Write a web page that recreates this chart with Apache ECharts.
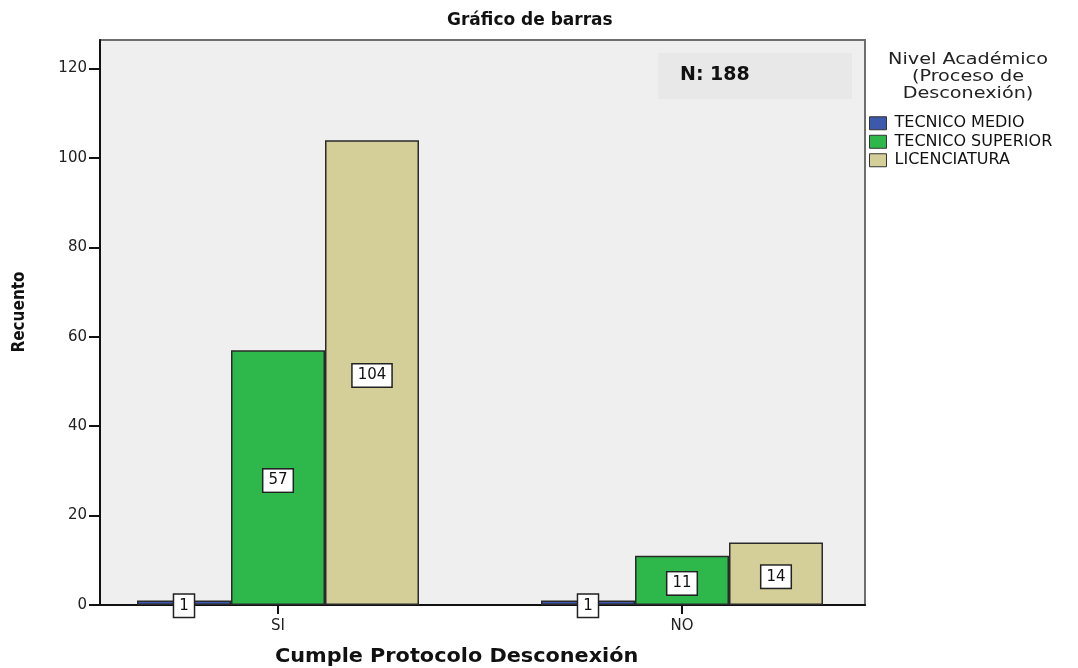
<!DOCTYPE html>
<html>
<head>
<meta charset="utf-8">
<script src="https://cdn.jsdelivr.net/npm/echarts@6/dist/echarts.min.js"></script>
<style>
  html, body { margin: 0; padding: 0; background: #fff; }
  #chart { width: 1078px; height: 668px; }
</style>
</head>
<body>
<div id="chart"></div>
<script>
// datos
var categories = ["SI", "NO"];
var seriesNames = ["TECNICO MEDIO", "TECNICO SUPERIOR", "LICENCIATURA"];
var tecnicoMedio = [1, 1];
var tecnicoSuperior = [57, 11];
var licenciatura = [104, 14];
var yTicks = [0, 20, 40, 60, 80, 100, 120];
var yMax = 126.4;

var colors = ["#3d59ab", "#2eb84b", "#d4cf98"];
var font = "DejaVu Sans";

var chart = echarts.init(document.getElementById("chart"));

function barSeries(name, data, color) {
  return {
    name: name,
    type: "bar",
    xAxisIndex: 1,
    yAxisIndex: 1,
    barWidth: 94,
    barGap: "0%",
    data: data,
    itemStyle: { color: color, borderColor: "#2a2a2a", borderWidth: 1.5 },
    label: {
      show: true,
      position: "inside",
      offset: [0, 3],
      color: "#111",
      fontFamily: font,
      fontSize: 15,
      backgroundColor: "#fff",
      borderColor: "#222",
      borderWidth: 1.5,
      padding: [4, 5, 3, 5]
    },
    emphasis: { disabled: true }
  };
}

var option = {
  animation: false,
  color: colors,
  title: {
    text: "Gráfico de barras",
    left: 442,
    top: 7,
    textStyle: { fontFamily: font, fontWeight: "bold", fontSize: 17, color: "#111" }
  },
  legend: {
    data: seriesNames,
    orient: "vertical",
    left: 869,
    top: 114,
    icon: "rect",
    itemWidth: 17,
    itemHeight: 13,
    itemGap: 0,
    padding: 0,
    itemStyle: { borderColor: "#333", borderWidth: 1 },
    textStyle: { fontFamily: font, fontSize: 16, lineHeight: 18.5, color: "#111", padding: [0, 0, 0, 3] }
  },
  graphic: [
    {
      type: "text",
      x: 968,
      y: 51,
      scaleX: 1.2,
      style: {
        text: "Nivel Académico\n(Proceso de\nDesconexión)",
        fontFamily: font,
        fontSize: 16,
        lineHeight: 17,
        align: "center",
        fill: "#222"
      }
    },
    {
      type: "rect",
      left: 658,
      top: 53,
      shape: { width: 194, height: 46 },
      style: { fill: "#e8e8e8" },
      z: 1
    },
    {
      type: "text",
      left: 680,
      top: 66,
      style: {
        text: "N: 188",
        fontFamily: font,
        fontWeight: "bold",
        fontSize: 19,
        fill: "#111"
      },
      z: 2
    },
    {
      type: "text",
      x: 275,
      y: 647,
      scaleX: 1.04,
      style: {
        text: "Cumple Protocolo Desconexión",
        fontFamily: font,
        fontWeight: "bold",
        fontSize: 20,
        fill: "#111"
      }
    },
    {
      type: "text",
      x: 20,
      y: 312,
      rotation: Math.PI / 2,
      style: {
        text: "Recuento",
        fontFamily: "DejaVu Sans Condensed",
        fontWeight: "bold",
        fontSize: 17,
        align: "center",
        verticalAlign: "middle",
        fill: "#111"
      }
    }
  ],
  grid: [
    {
      left: 100,
      top: 40,
      width: 765,
      height: 565,
      outerBoundsMode: "none",
      show: true,
      backgroundColor: "#efefef",
      borderColor: "#6e6e6e",
      borderWidth: 2
    },
    {
      left: 76,
      top: 40,
      width: 808,
      height: 565,
      outerBoundsMode: "none"
    }
  ],
  xAxis: [
    {
      gridIndex: 0,
      type: "value",
      min: 0,
      max: 1,
      axisLine: { show: true, lineStyle: { color: "#111", width: 2 } },
      axisTick: { show: false },
      axisLabel: { show: false },
      splitLine: { show: false }
    },
    {
      gridIndex: 1,
      type: "category",
      data: categories,
      axisLine: { show: false },
      axisTick: { show: true, alignWithLabel: true, length: 9, lineStyle: { color: "#111", width: 2 } },
      axisLabel: { fontFamily: font, fontSize: 15, color: "#222", margin: 14 }
    }
  ],
  yAxis: [
    {
      gridIndex: 0,
      type: "value",
      min: 0,
      max: yMax,
      axisLine: { show: true, lineStyle: { color: "#111", width: 2 } },
      axisTick: { show: true, length: 11, customValues: yTicks, lineStyle: { color: "#111", width: 2 } },
      axisLabel: { customValues: yTicks, fontFamily: font, fontSize: 15, color: "#222", margin: 13 },
      splitLine: { show: false }
    },
    {
      gridIndex: 1,
      type: "value",
      min: 0,
      max: yMax,
      show: false
    }
  ],
  series: [
    barSeries(seriesNames[0], tecnicoMedio, colors[0]),
    barSeries(seriesNames[1], tecnicoSuperior, colors[1]),
    barSeries(seriesNames[2], licenciatura, colors[2])
  ]
};

chart.setOption(option);
</script>
</body>
</html>
